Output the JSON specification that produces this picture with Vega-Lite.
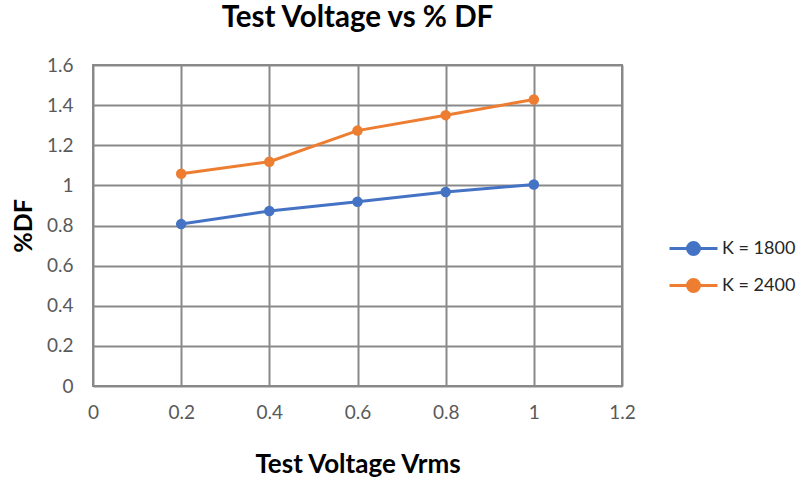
{
  "$schema": "https://vega.github.io/schema/vega-lite/v6.json",
  "width": 529,
  "height": 321,
  "autosize": "none",
  "padding": {"left": 93, "top": 65, "right": 176, "bottom": 95},
  "background": "white",
  "config": {
    "font": "Lato",
    "view": {"stroke": "#898989", "strokeWidth": 2}
  },
  "title": {
    "text": "Test Voltage vs % DF",
    "fontSize": 29.5,
    "fontWeight": "bold",
    "color": "#000000",
    "font": "Lato",
    "anchor": "middle",
    "offset": 23
  },
  "data": {
    "values": [
      {"v": 0.2, "df": 0.807, "series": "K = 1800"},
      {"v": 0.4, "df": 0.872, "series": "K = 1800"},
      {"v": 0.6, "df": 0.918, "series": "K = 1800"},
      {"v": 0.8, "df": 0.967, "series": "K = 1800"},
      {"v": 1.0, "df": 1.004, "series": "K = 1800"},
      {"v": 0.2, "df": 1.058, "series": "K = 2400"},
      {"v": 0.4, "df": 1.118, "series": "K = 2400"},
      {"v": 0.6, "df": 1.273, "series": "K = 2400"},
      {"v": 0.8, "df": 1.35, "series": "K = 2400"},
      {"v": 1.0, "df": 1.428, "series": "K = 2400"}
    ]
  },
  "encoding": {
    "x": {
      "field": "v",
      "type": "quantitative",
      "scale": {"domain": [0, 1.2], "nice": false},
      "axis": {
        "values": [0, 0.2, 0.4, 0.6, 0.8, 1, 1.2],
        "format": "~g",
        "title": "Test Voltage Vrms",
        "titleFontSize": 26,
        "titleFontWeight": "bold",
        "titleColor": "#000000",
        "titlePadding": 29,
        "labelFontSize": 19,
        "labelColor": "#595959",
        "labelPadding": 17,
        "labelFlush": false,
        "domain": false,
        "ticks": false,
        "gridColor": "#898989",
        "gridWidth": 2,
        "gridOpacity": 1
      }
    },
    "y": {
      "field": "df",
      "type": "quantitative",
      "scale": {"domain": [0, 1.6], "nice": false},
      "axis": {
        "values": [0, 0.2, 0.4, 0.6, 0.8, 1, 1.2, 1.4, 1.6],
        "format": "~g",
        "title": "%DF",
        "titleFontSize": 25,
        "titleFontWeight": "bold",
        "titleColor": "#000000",
        "titlePadding": 10,
        "labelFontSize": 19,
        "labelColor": "#595959",
        "labelPadding": 20,
        "labelFlush": false,
        "domain": false,
        "ticks": false,
        "gridColor": "#898989",
        "gridWidth": 2,
        "gridOpacity": 1
      }
    },
    "color": {
      "field": "series",
      "type": "nominal",
      "scale": {"domain": ["K = 1800", "K = 2400"], "range": ["#4472C4", "#ED7D31"]},
      "legend": {
        "title": null,
        "orient": "none",
        "legendX": 579,
        "legendY": 162,
        "symbolType": "M -1.2 0 L 1.2 0 M -0.3 0 A 0.3 0.3 0 1 1 0.3 0 A 0.3 0.3 0 1 1 -0.3 0 Z",
        "symbolSize": 1600,
        "symbolStrokeWidth": 3,
        "symbolOpacity": 1,
        "labelFontSize": 18,
        "labelColor": "#262626",
        "labelOffset": 7,
        "rowPadding": 3
      }
    }
  },
  "layer": [
    {"mark": {"type": "line", "strokeWidth": 3}},
    {"mark": {"type": "point", "filled": true, "size": 110, "opacity": 1}}
  ]
}
